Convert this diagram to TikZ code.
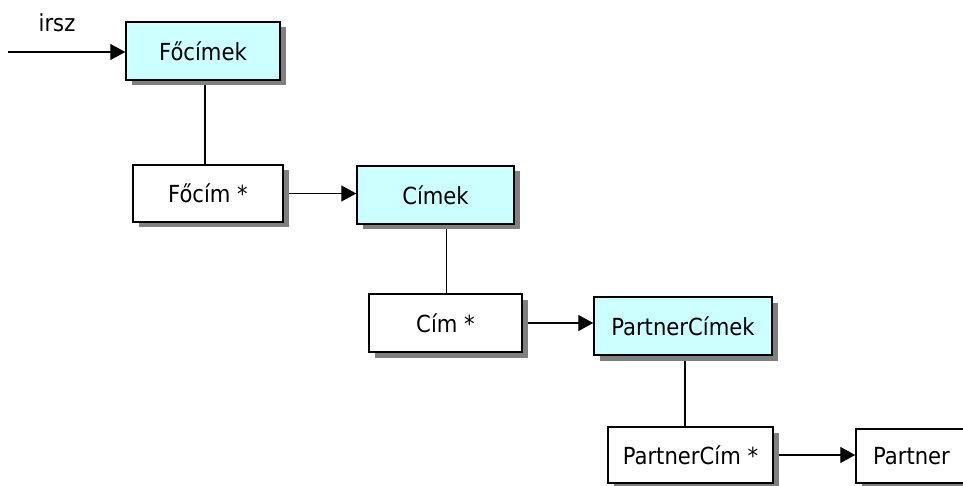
\documentclass[tikz,border=0pt]{standalone}
\usepackage{fontspec}
\setmainfont{DejaVu Sans Condensed}
\usetikzlibrary{arrows.meta,shadows,backgrounds}
\definecolor{boxcyan}{HTML}{CCFFFF}
\definecolor{shadowgray}{HTML}{808080}
\begin{document}
\begin{tikzpicture}[x=1pt,y=-1pt,
  box/.style={draw=black, line width=1.5pt, inner sep=0pt, text=black,
    font=\fontsize{23.5}{28}\selectfont,
    drop shadow={shadow xshift=5.5pt, shadow yshift=-5.5pt, fill=shadowgray, opacity=1}},
  setbox/.style={box, fill=boxcyan},
  itembox/.style={box, fill=white},
  link/.style={draw=black, line width=1.4pt},
  arrow/.style={link, -{Triangle[length=15pt,width=16pt]}},
  lbl/.style={font=\fontsize{23.5}{28}\selectfont, inner sep=0pt}]
\useasboundingbox (0,0) rectangle (963,486);
\clip (0,0) rectangle (963,486);

% record sets (cyan) and their items (white)
\node[setbox,  minimum width=154pt, minimum height=58pt] (focimek) at (203,51)    {Főcímek};
\node[itembox, minimum width=150pt, minimum height=57pt] (focim)   at (208,193.5) {Főcím *};
\node[setbox,  minimum width=157pt, minimum height=58pt] (cimek)   at (435.5,195) {Címek};
\node[itembox, minimum width=153pt, minimum height=58pt] (cim)     at (445.5,323) {Cím *};
\node[setbox,  minimum width=178pt, minimum height=58pt] (pcimek)  at (683,326)   {PartnerCímek};
\node[itembox, minimum width=165pt, minimum height=56pt] (pcim)    at (690.5,455) {PartnerCím *};
\node[itembox, minimum width=111pt, minimum height=54pt] (partner) at (911.5,456) {Partner};

% entry point
\coordinate (start) at (8,52);
\node[lbl] (irsz) at (57,23) {irsz};

\begin{scope}[on background layer]
  \draw[arrow] (start) -- (start -| focimek.west);
  \draw[link] ([xshift=2pt]focimek.south) -- ([xshift=2pt]focimek.south |- focim.north);
  \draw[arrow] (focim.east) -- (focim.east -| cimek.west);
  \draw[link] ([xshift=11pt]cimek.south) -- ([xshift=11pt]cimek.south |- cim.north);
  \draw[arrow] (cim.east) -- (cim.east -| pcimek.west);
  \draw[link] ([xshift=2pt]pcimek.south) -- ([xshift=2pt]pcimek.south |- pcim.north);
  \draw[arrow] (pcim.east) -- (pcim.east -| partner.west);
\end{scope}
\end{tikzpicture}
\end{document}
